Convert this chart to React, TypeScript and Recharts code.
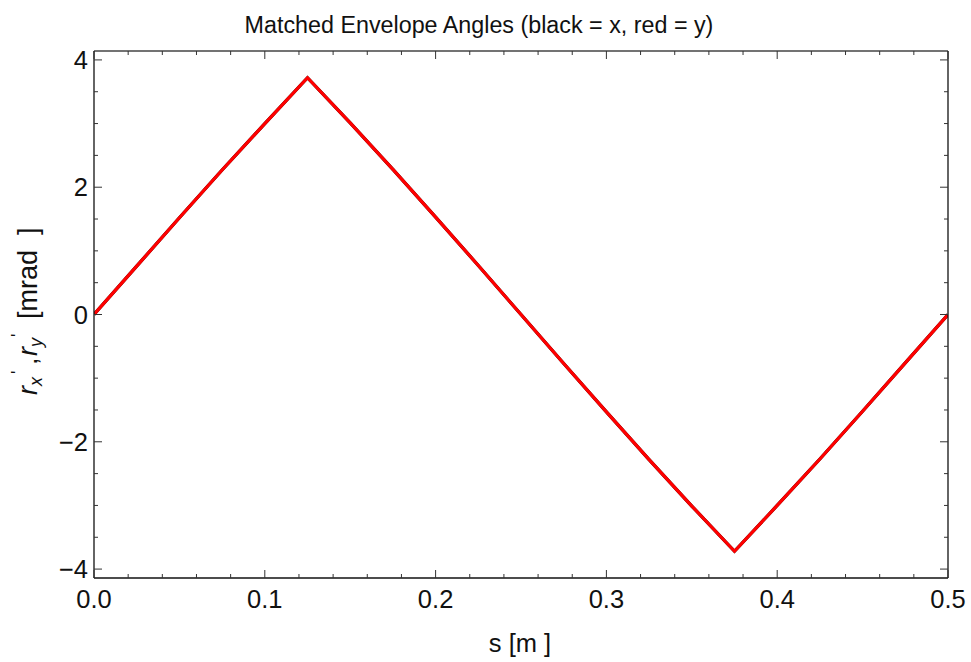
import React from "react";
import { LineChart, Line, XAxis, YAxis } from "recharts";

// position along lattice [m]
const sValues = [0, 0.025, 0.05, 0.075, 0.1, 0.125, 0.15, 0.175, 0.2, 0.225, 0.25, 0.275, 0.3, 0.325, 0.35, 0.375, 0.4, 0.425, 0.45, 0.475, 0.5];
// envelope angles [mrad]
const rxValues = [0, 0.76, 1.52, 2.27, 3.0, 3.72, 3.01, 2.28, 1.53, 0.77, 0, -0.77, -1.53, -2.28, -3.01, -3.72, -3.0, -2.27, -1.52, -0.76, 0];
const ryValues = [0, 0.76, 1.52, 2.27, 3.0, 3.72, 3.01, 2.28, 1.53, 0.77, 0, -0.77, -1.53, -2.28, -3.01, -3.72, -3.0, -2.27, -1.52, -0.76, 0];

const xMajorTicks = [0, 0.1, 0.2, 0.3, 0.4, 0.5];
const xTickLabels = ["0.0", "0.1", "0.2", "0.3", "0.4", "0.5"];
const yMajorTicks = [-4, -2, 0, 2, 4];
const yTickLabels = ["\u22124", "\u22122", "0", "2", "4"];

const xMinorStep = 0.02;
const yMinorStep = 0.5;

const xTicks: number[] = [];
for (let i = 0; i <= 25; i++) xTicks.push(+(i * xMinorStep).toFixed(4));
const yTicks: number[] = [];
for (let i = -8; i <= 8; i++) yTicks.push(i * yMinorStep);

const data = sValues.map((s, i) => ({ s, rx: rxValues[i], ry: ryValues[i] }));

const FONT = "'Liberation Sans', Arial, Helvetica, sans-serif";
const TICK_COLOR = "#333";
const TICK_FONT = 25.5;

const majorIndex = (v: number, majors: number[]) =>
  majors.findIndex((m) => Math.abs(m - v) < 1e-6);

const BottomTick = (props: any) => {
  const { x, y, payload } = props;
  const idx = majorIndex(payload.value, xMajorTicks);
  const major = idx >= 0;
  return (
    <g>
      <line x1={x} x2={x} y1={y} y2={y - (major ? 8 : 4)} stroke={TICK_COLOR} strokeWidth={1} />
      {major && (
        <text x={x} y={y + 30} textAnchor="middle" fontSize={TICK_FONT} fontFamily={FONT} fill="#111">
          {xTickLabels[idx]}
        </text>
      )}
    </g>
  );
};

const TopTick = (props: any) => {
  const { x, y, payload } = props;
  const major = majorIndex(payload.value, xMajorTicks) >= 0;
  return <line x1={x} x2={x} y1={y} y2={y + (major ? 8 : 4)} stroke={TICK_COLOR} strokeWidth={1} />;
};

const LeftTick = (props: any) => {
  const { x, y, payload } = props;
  const idx = majorIndex(payload.value, yMajorTicks);
  const major = idx >= 0;
  return (
    <g>
      <line x1={x} x2={x + (major ? 8 : 4)} y1={y} y2={y} stroke={TICK_COLOR} strokeWidth={1} />
      {major && (
        <text x={x - 6} y={y} dy="0.36em" textAnchor="end" fontSize={TICK_FONT} fontFamily={FONT} fill="#111">
          {yTickLabels[idx]}
        </text>
      )}
    </g>
  );
};

const RightTick = (props: any) => {
  const { x, y, payload } = props;
  const major = majorIndex(payload.value, yMajorTicks) >= 0;
  return <line x1={x} x2={x - (major ? 8 : 4)} y1={y} y2={y} stroke={TICK_COLOR} strokeWidth={1} />;
};

export default function App() {
  return (
    <div style={{ position: "absolute", left: 0, top: 0, width: 971, height: 662, background: "#fff" }}>
      <LineChart
        width={971}
        height={662}
        data={data}
        margin={{ top: 50, right: 22, bottom: 83, left: 93 }}
      >
        <XAxis
          xAxisId="bottom"
          dataKey="s"
          type="number"
          domain={[0, 0.5]}
          ticks={xTicks}
          interval={0}
          height={1}
          tickSize={0}
          tickMargin={0}
          tick={<BottomTick />}
          tickLine={false}
          axisLine={{ stroke: "#111", strokeWidth: 1.3 }}
          allowDataOverflow
        />
        <XAxis
          xAxisId="top"
          orientation="top"
          dataKey="s"
          type="number"
          domain={[0, 0.5]}
          ticks={xTicks}
          interval={0}
          height={1}
          tickSize={0}
          tickMargin={0}
          tick={<TopTick />}
          tickLine={false}
          axisLine={{ stroke: "#444", strokeWidth: 1.3 }}
          allowDataOverflow
        />
        <YAxis
          yAxisId="left"
          type="number"
          domain={[-4.14, 4.14]}
          ticks={yTicks}
          interval={0}
          width={1}
          tickSize={0}
          tickMargin={0}
          tick={<LeftTick />}
          tickLine={false}
          axisLine={{ stroke: "#111", strokeWidth: 1.3 }}
          allowDataOverflow
        />
        <YAxis
          yAxisId="right"
          orientation="right"
          type="number"
          domain={[-4.14, 4.14]}
          ticks={yTicks}
          interval={0}
          width={1}
          tickSize={0}
          tickMargin={0}
          tick={<RightTick />}
          tickLine={false}
          axisLine={{ stroke: "#111", strokeWidth: 1.3 }}
          allowDataOverflow
        />
        <Line
          xAxisId="bottom"
          yAxisId="left"
          type="linear"
          dataKey="rx"
          stroke="#000"
          strokeWidth={3.2}
          dot={false}
          isAnimationActive={false}
        />
        <Line
          xAxisId="bottom"
          yAxisId="left"
          type="linear"
          dataKey="ry"
          stroke="#ff0000"
          strokeWidth={3.2}
          dot={false}
          isAnimationActive={false}
        />
        <text x={479} y={33} textAnchor="middle" fontSize={23.3} fontFamily={FONT} fill="#111">
          Matched Envelope Angles (black = x, red = y)
        </text>
        <text x={520} y={652} textAnchor="middle" fontSize={25.5} fontFamily={FONT} fill="#111">
          s [m ]
        </text>
        <g transform="translate(37, 395) rotate(-90)" fontFamily={FONT} fill="#111">
          <text x={0} y={0} fontSize={27} fontStyle="italic">r</text>
          <text x={9} y={5} fontSize={18} fontStyle="italic">x</text>
          <text x={21} y={-13} fontSize={18}>'</text>
          <text x={30} y={0} fontSize={27}>,</text>
          <text x={39} y={0} fontSize={27} fontStyle="italic">r</text>
          <text x={48} y={5} fontSize={18} fontStyle="italic">y</text>
          <text x={58} y={-13} fontSize={18}>'</text>
          <text x={76} y={0} fontSize={27}>[mrad</text>
          <text x={160} y={0} fontSize={27}>]</text>
        </g>
      </LineChart>
    </div>
  );
}
